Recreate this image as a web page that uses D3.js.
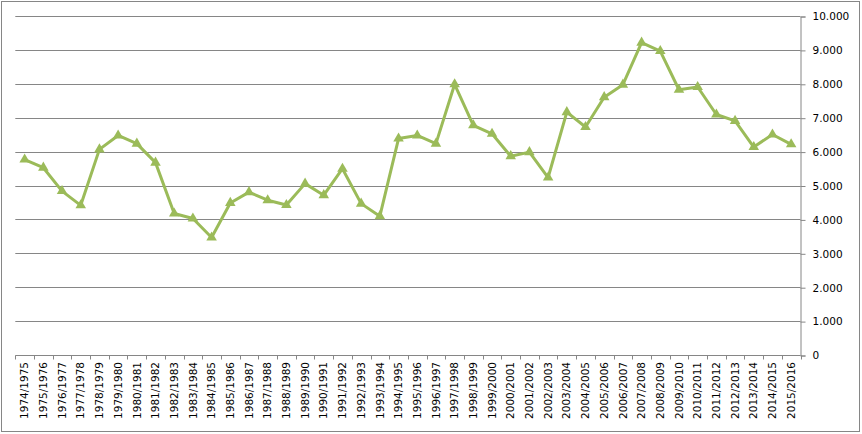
<!DOCTYPE html>
<html>
<head>
<meta charset="utf-8">
<script src="https://cdn.jsdelivr.net/npm/d3@7"></script>
<style>
  html, body { margin: 0; padding: 0; background: #fff; }
  svg { display: block; }
  text { font-family: "DejaVu Sans", sans-serif; font-size: 10.5px; fill: #000; }
</style>
</head>
<body>
<svg id="chart" width="862" height="434"></svg>
<script>
const categories = [
  "1974/1975","1975/1976","1976/1977","1977/1978","1978/1979","1979/1980","1980/1981",
  "1981/1982","1982/1983","1983/1984","1984/1985","1985/1986","1986/1987","1987/1988",
  "1988/1989","1989/1990","1990/1991","1991/1992","1992/1993","1993/1994","1994/1995",
  "1995/1996","1996/1997","1997/1998","1998/1999","1999/2000","2000/2001","2001/2002",
  "2002/2003","2003/2004","2004/2005","2005/2006","2006/2007","2007/2008","2008/2009",
  "2009/2010","2010/2011","2011/2012","2012/2013","2013/2014","2014/2015","2015/2016"
];
const values = [
  5780, 5540, 4850, 4430, 6080, 6490, 6250,
  5690, 4190, 4040, 3480, 4500, 4820, 4580,
  4440, 5070, 4730, 5510, 4480, 4110, 6400,
  6490, 6250, 8000, 6790, 6540, 5880, 6000,
  5250, 7180, 6740, 7620, 7990, 9230, 8980,
  7840, 7920, 7110, 6920, 6150, 6520, 6230
];
const yTicks = [0, 1000, 2000, 3000, 4000, 5000, 6000, 7000, 8000, 9000, 10000];

(function () {
const svg = d3.select("#chart");
const grey = "#868686";
const green = "#9BBB59";

// outer border
svg.append("rect").attr("x", 1.5).attr("y", 1.5).attr("width", 858).attr("height", 430)
  .attr("fill", "none").attr("stroke", grey).attr("stroke-width", 1);

const pL = 15.3, pR = 800.5, pT = 16.5, pB = 355.5;

const x = d3.scaleBand().domain(categories).range([pL, pR]).padding(0);
const y = d3.scaleLinear().domain([0, 10000]).range([pB, pT]);

const locale = d3.formatLocale({decimal: ",", thousands: ".", grouping: [3], currency: ["", " €"]});
const fmt = locale.format(",.0f");

// gridlines
svg.append("g").selectAll("line").data(yTicks.filter(d => d > 0)).join("line")
  .attr("x1", pL).attr("x2", pR)
  .attr("y1", d => Math.round(y(d) - 0.5) + 0.5).attr("y2", d => Math.round(y(d) - 0.5) + 0.5)
  .attr("stroke", grey).attr("stroke-width", 1);

// right axis
const yAxis = d3.axisRight(y).tickValues(yTicks).tickFormat(fmt).tickSize(5).tickPadding(7);
const gy = svg.append("g").attr("transform", `translate(${pR},0)`).call(yAxis);
gy.select(".domain").attr("stroke", grey);
gy.selectAll(".tick line").attr("stroke", grey);
gy.selectAll("text").style("font-family", '"DejaVu Sans", sans-serif').style("font-size", "10.5px").attr("fill", "#000");

// bottom axis line + boundary ticks
const gx = svg.append("g");
gx.append("line").attr("x1", pL).attr("x2", pR).attr("y1", pB).attr("y2", pB)
  .attr("stroke", grey);
const bounds = categories.map(c => x(c)).concat([x(categories[categories.length - 1]) + x.bandwidth()]);
gx.selectAll("line.tk").data(bounds).join("line").attr("class", "tk")
  .attr("x1", d => Math.round(d) + 0.5).attr("x2", d => Math.round(d) + 0.5)
  .attr("y1", pB).attr("y2", pB + 4).attr("stroke", grey);
gx.selectAll("text").data(categories).join("text")
  .attr("transform", d => `translate(${x(d) + x.bandwidth() / 2},362) rotate(-90)`)
  .attr("text-anchor", "end").attr("dy", "0.35em")
  .text(d => d);

// line
const line = d3.line().x((d, i) => x(categories[i]) + x.bandwidth() / 2).y(d => y(d));
svg.append("path").datum(values).attr("d", line)
  .attr("fill", "none").attr("stroke", green).attr("stroke-width", 3).attr("stroke-linejoin", "round");

// markers
const sym = d3.symbol().type(d3.symbolTriangle).size(48);
svg.append("g").selectAll("path").data(values).join("path")
  .attr("transform", (d, i) => `translate(${x(categories[i]) + x.bandwidth() / 2},${y(d)})`)
  .attr("d", sym).attr("fill", green);
})();
</script>
</body>
</html>
